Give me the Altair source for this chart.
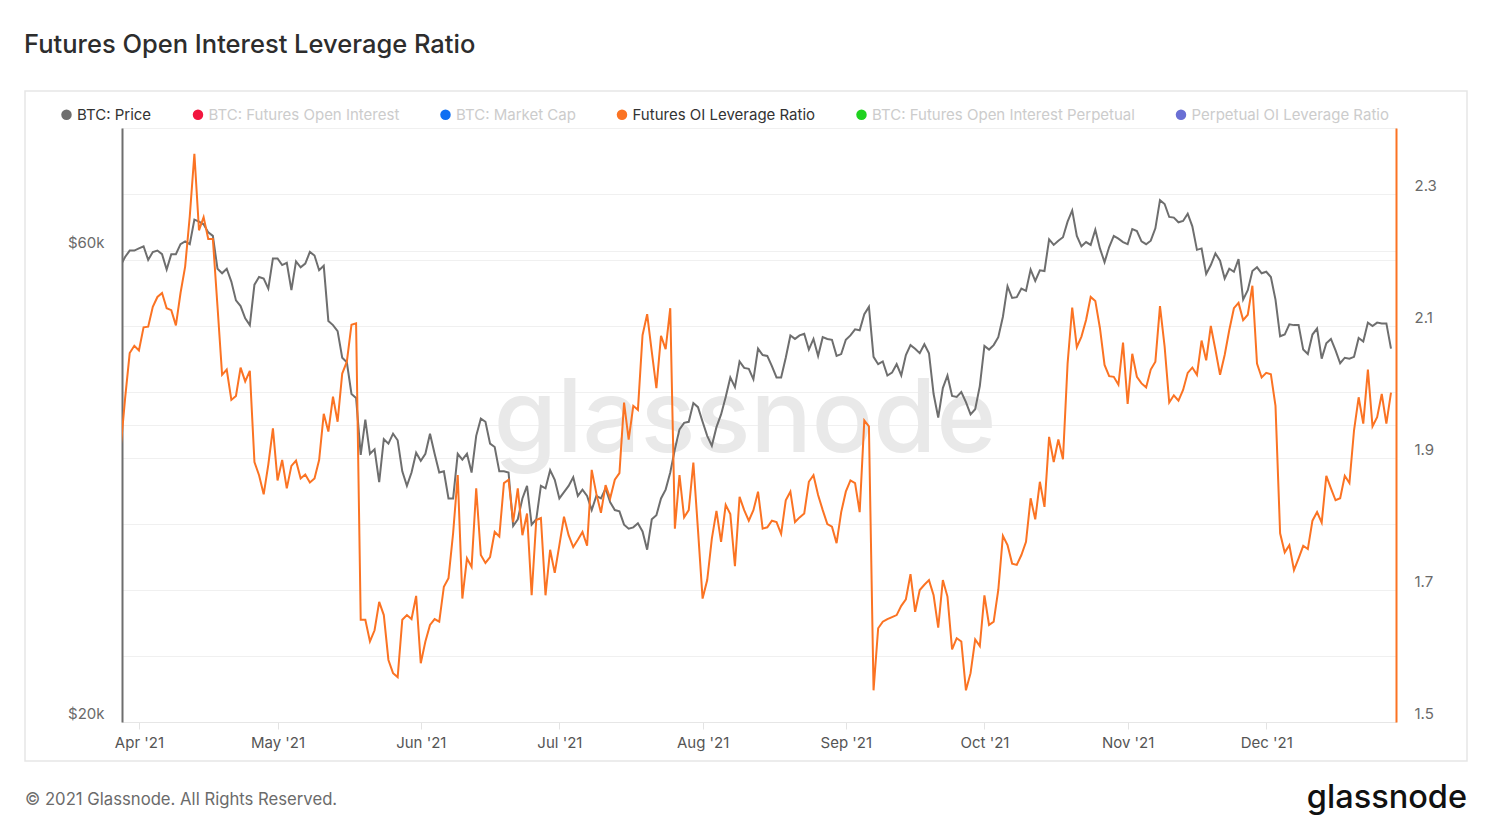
import altair as alt
import pandas as pd

# ---------------- data ----------------
start_date = "2021-03-28"

# BTC price, thousands of USD, daily from 2021-03-28
price_k = [
    58.0, 59.2, 60.1, 60.1,
    60.4, 60.7, 58.8, 59.9, 60.1, 59.6, 57.5, 59.6, 59.6, 61.0, 61.4, 61.0, 64.6, 64.3, 63.9,
    62.7, 62.2, 57.6, 57.0, 57.6, 55.9, 53.5, 52.8, 51.3, 50.5, 55.5, 56.5, 56.3, 55.0, 59.0,
    59.0, 58.1, 58.4, 54.8, 58.6, 57.8, 58.3, 59.9, 59.4, 57.4, 58.0, 51.0, 50.5, 49.8, 46.8,
    46.3, 43.0, 42.6, 37.3, 40.5, 37.4, 37.8, 35.0, 38.7, 38.3, 39.2, 38.6, 35.9, 34.7, 35.8, 37.5,
    36.8, 37.4, 39.2, 37.4, 35.8, 35.9, 33.7, 33.7, 37.4, 36.9, 37.4, 35.8, 39.0, 40.6, 40.3,
    38.3, 38.0, 35.9, 35.9, 35.8, 31.6, 32.1, 33.7, 34.7, 31.7, 32.1, 34.7, 34.5, 36.0, 35.2,
    33.7, 34.2, 34.7, 35.4, 33.9, 34.4, 33.9, 32.8, 33.9, 33.7, 34.5, 33.4, 32.8, 32.7, 31.7,
    31.4, 31.5, 31.8, 31.2, 29.9, 32.1, 32.4, 33.7, 34.4, 35.8, 37.8, 39.6, 40.2, 40.3, 42.1, 41.7,
    40.3, 39.0, 38.1, 39.8, 41.0, 42.7, 44.7, 43.7, 46.4, 45.7, 45.6, 44.5, 47.8, 47.1, 47.0,
    45.9, 44.7, 44.7, 46.8, 49.3, 48.9, 49.3, 49.5, 47.7, 48.9, 47.0, 49.1, 48.9, 48.8, 47.0, 47.2,
    48.8, 49.3, 50.0, 49.9, 51.8, 52.7, 46.9, 46.1, 46.4, 44.9, 45.2, 46.1, 44.9, 47.1, 48.2,
    47.8, 47.3, 48.3, 47.3, 43.0, 40.7, 43.6, 44.9, 42.8, 42.7, 43.2, 42.2, 41.0, 41.5, 43.8,
    48.1, 47.7, 48.2, 49.1, 51.5, 55.3, 53.8, 53.9, 55.0, 54.7, 57.5, 56.0, 57.4, 57.3, 61.7,
    60.9, 61.5, 62.0, 64.3, 66.0, 62.2, 60.7, 61.3, 60.9, 63.1, 60.4, 58.5, 60.6, 62.2, 61.8, 61.3,
    61.0, 63.2, 62.9, 61.4, 61.0, 61.5, 63.3, 67.6, 67.0, 65.0, 64.9, 64.2, 64.4, 65.5, 63.6,
    60.2, 60.4, 56.9, 58.1, 59.7, 58.7, 56.3, 57.6, 57.2, 58.9, 53.6, 54.8, 57.3, 57.8, 57.0,
    57.2, 56.5, 53.6, 49.2, 49.4, 50.6, 50.5, 50.5, 47.7, 47.2, 49.4, 50.1, 46.7, 48.4,
    48.9, 47.6, 46.2, 46.8, 46.7, 46.9, 49.0, 48.6, 50.8, 50.4, 50.8, 50.7, 50.7, 47.8,
]

# Futures OI leverage ratio, daily from 2021-03-28
leverage = [
    1.912, 1.99, 2.059, 2.070,
    2.063, 2.098, 2.099, 2.129, 2.144, 2.150, 2.127, 2.124, 2.101, 2.150, 2.190, 2.266, 2.361,
    2.245, 2.265, 2.232, 2.232, 2.13, 2.026, 2.034, 1.988, 1.994, 2.037, 2.016, 2.032, 1.894,
    1.874, 1.845, 1.89, 1.945,
    1.866, 1.897, 1.854, 1.888, 1.896, 1.869, 1.875, 1.863, 1.869, 1.897, 1.967, 1.94, 1.993,
    1.955, 2.028, 2.046, 2.102, 2.104, 1.655, 1.655, 1.622, 1.639, 1.682, 1.662, 1.594, 1.574,
    1.568, 1.655, 1.662, 1.656, 1.691,
    1.589, 1.622, 1.647, 1.656, 1.652, 1.705, 1.718, 1.786, 1.874, 1.687, 1.748, 1.735, 1.854,
    1.753, 1.741, 1.750, 1.788, 1.781, 1.862, 1.867, 1.803, 1.854, 1.783, 1.816, 1.692, 1.806,
    1.809, 1.692, 1.761, 1.726,
    1.768, 1.811, 1.783, 1.765, 1.776, 1.788, 1.767, 1.882, 1.846, 1.817, 1.859, 1.839, 1.867,
    1.877, 1.984, 1.928, 1.979, 1.973, 2.086, 2.118, 2.061, 2.006, 2.085, 2.065, 2.127, 1.793,
    1.874, 1.810, 1.821, 1.893, 1.791,
    1.687, 1.715, 1.778, 1.820, 1.773, 1.829, 1.815, 1.736, 1.841, 1.821, 1.805, 1.821, 1.849,
    1.793, 1.795, 1.805, 1.803, 1.785, 1.836, 1.849, 1.803, 1.810, 1.816, 1.864, 1.874, 1.844,
    1.821, 1.800, 1.796, 1.771, 1.818,
    1.849, 1.866, 1.862, 1.818, 1.957, 1.948, 1.548, 1.642, 1.652, 1.656, 1.659, 1.662, 1.676,
    1.686, 1.724, 1.667, 1.700, 1.708, 1.715, 1.692, 1.643, 1.715, 1.690, 1.610, 1.627, 1.622,
    1.548, 1.574, 1.625, 1.615,
    1.692, 1.647, 1.652, 1.700, 1.782, 1.768, 1.740, 1.738, 1.753, 1.773, 1.839, 1.807, 1.864,
    1.826, 1.932, 1.894, 1.928, 1.898, 2.043, 2.128, 2.068, 2.084, 2.109, 2.144, 2.138, 2.097,
    2.041, 2.024, 2.023, 2.011, 2.075,
    1.982, 2.058, 2.023, 2.013, 2.007, 2.034, 2.046, 2.130, 2.069, 1.984, 1.995, 1.987, 2.003,
    2.029, 2.037, 2.026, 2.078, 2.048, 2.100, 2.064, 2.026, 2.056, 2.094, 2.127, 2.135, 2.109,
    2.117, 2.161, 2.043, 2.022,
    2.029, 2.027, 1.979, 1.786, 1.757, 1.768, 1.730, 1.748, 1.767, 1.762, 1.805, 1.818, 1.802,
    1.873, 1.854, 1.836, 1.839, 1.873, 1.862, 1.942, 1.992, 1.952, 2.034, 1.948, 1.962, 1.997,
    1.952, 1.999,
]

legend_series = [
    "BTC: Price",
    "BTC: Futures Open Interest",
    "BTC: Market Cap",
    "Futures OI Leverage Ratio",
    "BTC: Futures Open Interest Perpetual",
    "Perpetual OI Leverage Ratio",
]
legend_colors = ["#6e6e6e", "#f2163f", "#0f6ff2", "#fb7323", "#1fd21f", "#6a6fd4"]

price_ticks = [20000, 40000, 60000, 80000]
ratio_ticks = [1.5, 1.6, 1.7, 1.8, 1.9, 2.0, 2.1, 2.2, 2.3, 2.4]

title_text = "Futures Open Interest Leverage Ratio"
footer_text = "\u00a9 2021 Glassnode. All Rights Reserved."
brand_text = "glassnode"

# ---------------- tables ----------------
dates = pd.date_range(start_date, periods=len(price_k), freq="D").strftime("%Y-%m-%d").tolist()
price_df = pd.DataFrame({"date": dates, "price": [p * 1000 for p in price_k]})
lev_df = pd.DataFrame({"date": dates[: len(leverage)], "ratio": leverage})
legend_df = pd.DataFrame({"series": legend_series})
one = pd.DataFrame({"k": [0]})

W, H = 1274, 594
FONT = "Inter"
ORANGE = "#fb7323"
GRAY = "#6e6e6e"

x_enc = alt.X(
    "date:T",
    scale=alt.Scale(
        type="utc",
        domain=[
            alt.DateTime(year=2021, month=3, date=28, hours=8, utc=True),
            alt.DateTime(year=2021, month=12, date=29, hours=2, utc=True),
        ],
    ),
    axis=alt.Axis(
        title=None,
        labelExpr="utcFormat(datum.value, \"%b '%y\")",
        values=[alt.DateTime(year=2021, month=m, date=1, utc=True) for m in range(4, 13)],
        grid=False,
        domainColor="#e6e6e6",
        domainWidth=1,
        tickColor="#e3e3e3",
        tickSize=7,
        labelPadding=6,
        labelFontSize=15,
        labelColor="#555555",
        labelFont=FONT,
    ),
)

watermark = alt.Chart(one).mark_text(
    text=brand_text, font=FONT, fontSize=102, fontWeight=500, color="#e9e9e9",
    align="center", baseline="alphabetic",
).encode(x=alt.value(623), y=alt.value(324))

border = alt.Chart(one).mark_rect(
    fill=None, stroke="#e6e6e6", strokeWidth=1.5
).encode(x=alt.value(-97), x2=alt.value(1345), y=alt.value(-37), y2=alt.value(633))

price_line = alt.Chart(price_df).mark_line(color=GRAY, strokeWidth=2, clip=True).encode(
    x=x_enc,
    y=alt.Y(
        "price:Q",
        scale=alt.Scale(type="log", domain=[20000, 80000], nice=False),
        axis=alt.Axis(
            orient="left",
            title=None,
            values=price_ticks,
            labelExpr="(datum.value == 20000 || datum.value == 60000) ? '$' + round(datum.value/1000) + 'k' : ''",
            grid=True,
            gridColor="#f0f0f0",
            gridWidth=1,
            ticks=False,
            tickSize=0,
            domainColor=GRAY,
            domainWidth=2,
            labelPadding=18,
            labelBaseline="bottom",
            labelOffset=-1,
            labelFontSize=15,
            labelColor="#6a6a6a",
            labelFont=FONT,
        ),
    ),
)

lev_line = alt.Chart(lev_df).mark_line(color=ORANGE, strokeWidth=2, clip=True).encode(
    x=x_enc,
    y=alt.Y(
        "ratio:Q",
        scale=alt.Scale(domain=[1.5, 2.4], nice=False, zero=False),
        axis=alt.Axis(
            orient="right",
            title=None,
            values=ratio_ticks,
            labelExpr="(abs(datum.value*10 - round(datum.value*10)) < 0.01 && round(datum.value*10) % 2 == 1) ? format(datum.value, '.1f') : ''",
            grid=True,
            gridColor="#f0f0f0",
            gridWidth=1,
            ticks=False,
            tickSize=0,
            domainColor=ORANGE,
            domainWidth=2,
            labelPadding=18,
            labelBaseline="bottom",
            labelOffset=-1,
            labelFontSize=15,
            labelColor="#6a6a6a",
            labelFont=FONT,
        ),
    ),
)

legend_layer = alt.Chart(legend_df).mark_circle(opacity=0, size=110).encode(
    color=alt.Color(
        "series:N",
        scale=alt.Scale(domain=legend_series, range=legend_colors),
        legend=alt.Legend(
            title=None,
            orient="none",
            legendX=-63,
            legendY=-21,
            direction="horizontal",
            columns=6,
            symbolType="circle",
            symbolSize=110,
            symbolOpacity=1,
            symbolStrokeWidth=0,
            labelFontSize=15,
            labelFont=FONT,
            labelOffset=3,
            columnPadding=38.5,
            padding=0,
            labelLimit=400,
            labelColor={"expr": "indexof(['BTC: Price','Futures OI Leverage Ratio'], datum.value) >= 0 ? '#333333' : '#cccccc'"},
        ),
    )
)

title = alt.Chart(one).mark_text(
    text=title_text, font=FONT, fontSize=25.5, fontWeight=500, color="#2d2d2d",
    align="left", baseline="middle",
).encode(x=alt.value(-98), y=alt.value(-83))

footer = alt.Chart(one).mark_text(
    text=footer_text, font=FONT, fontSize=16.7, color="#6b6b6b",
    align="left", baseline="middle",
).encode(x=alt.value(-97), y=alt.value(672))

brand = alt.Chart(one).mark_text(
    text=brand_text, font=FONT, fontSize=32.5, fontWeight=500, color="#111111",
    align="right", baseline="alphabetic",
).encode(x=alt.value(1345), y=alt.value(680))

chart = (
    alt.layer(watermark, border, price_line, lev_line, legend_layer, title, footer, brand)
    .resolve_scale(y="independent")
    .properties(
        width=W,
        height=H,
        padding={"left": 114, "top": 120, "right": 86, "bottom": 94},
        autosize=alt.AutoSizeParams(type="none"),
        background="white",
    )
    .configure_view(stroke=None)
    .configure(font=FONT)
)

chart.save("out.html", embed_options={"renderer": "svg", "actions": False})
